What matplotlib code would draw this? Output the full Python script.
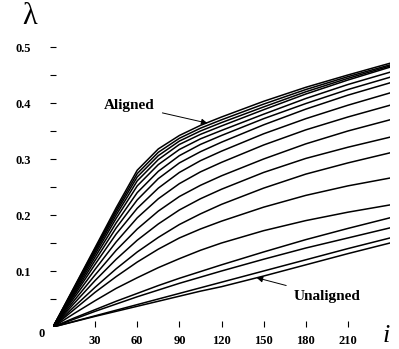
import numpy as np
from matplotlib import pyplot as plt

# sample positions along i
x_pts = [0, 15, 30, 45, 60, 75, 90, 105, 120, 150, 180, 210, 240]

# lambda, curves from the top ("Aligned") to the bottom ("Unaligned")
lam_c01 = [0, 0.071, 0.142, 0.213, 0.280, 0.318, 0.342, 0.360, 0.375, 0.403, 0.428, 0.450, 0.471]
lam_c02 = [0, 0.070, 0.140, 0.209, 0.274, 0.312, 0.337, 0.355, 0.370, 0.398, 0.424, 0.447, 0.468]
lam_c03 = [0, 0.068, 0.137, 0.205, 0.268, 0.306, 0.332, 0.350, 0.365, 0.393, 0.420, 0.444, 0.466]
lam_c04 = [0, 0.067, 0.134, 0.200, 0.261, 0.299, 0.326, 0.344, 0.359, 0.388, 0.416, 0.441, 0.464]
lam_c05 = [0, 0.065, 0.130, 0.194, 0.252, 0.290, 0.317, 0.336, 0.351, 0.380, 0.408, 0.433, 0.455]
lam_c06 = [0, 0.062, 0.125, 0.186, 0.240, 0.278, 0.306, 0.326, 0.342, 0.372, 0.399, 0.424, 0.446]
lam_c07 = [0, 0.059, 0.119, 0.177, 0.227, 0.265, 0.293, 0.313, 0.330, 0.361, 0.389, 0.414, 0.436]
lam_c08 = [0, 0.056, 0.112, 0.166, 0.212, 0.248, 0.276, 0.297, 0.314, 0.345, 0.372, 0.396, 0.418]
lam_c09 = [0, 0.052, 0.103, 0.152, 0.195, 0.229, 0.256, 0.277, 0.294, 0.325, 0.352, 0.375, 0.396]
lam_c10 = [0, 0.047, 0.093, 0.137, 0.175, 0.207, 0.233, 0.253, 0.270, 0.300, 0.327, 0.350, 0.370]
lam_c11 = [0, 0.042, 0.083, 0.121, 0.155, 0.184, 0.209, 0.229, 0.246, 0.276, 0.301, 0.321, 0.339]
lam_c12 = [0, 0.036, 0.071, 0.104, 0.134, 0.160, 0.183, 0.202, 0.219, 0.248, 0.273, 0.293, 0.311]
lam_c13 = [0, 0.031, 0.062, 0.090, 0.116, 0.139, 0.159, 0.175, 0.189, 0.214, 0.235, 0.252, 0.266]
lam_c14 = [0, 0.024, 0.047, 0.069, 0.088, 0.106, 0.122, 0.137, 0.150, 0.172, 0.190, 0.205, 0.218]
lam_c15 = [0, 0.016, 0.031, 0.046, 0.060, 0.074, 0.087, 0.099, 0.111, 0.134, 0.156, 0.176, 0.195]
lam_c16 = [0, 0.014, 0.028, 0.041, 0.054, 0.066, 0.078, 0.089, 0.100, 0.121, 0.141, 0.159, 0.177]
lam_c17 = [0, 0.010, 0.020, 0.030, 0.040, 0.050, 0.060, 0.070, 0.080, 0.100, 0.120, 0.140, 0.159]
lam_c18 = [0, 0.0095, 0.019, 0.028, 0.037, 0.046, 0.055, 0.064, 0.072, 0.091, 0.111, 0.131, 0.150]

x_ticks = [30, 60, 90, 120, 150, 180, 210]
y_ticks = [0.1, 0.2, 0.3, 0.4, 0.5]
y_minor = [0.05, 0.15, 0.25, 0.35, 0.45]


def main():
    plt.rcParams['font.family'] = ['Liberation Serif', 'DejaVu Serif']

    curves = [lam_c01, lam_c02, lam_c03, lam_c04, lam_c05, lam_c06,
              lam_c07, lam_c08, lam_c09, lam_c10, lam_c11, lam_c12,
              lam_c13, lam_c14, lam_c15, lam_c16, lam_c17, lam_c18]

    fig = plt.figure(figsize=(3.99, 3.49), dpi=100)
    ax = fig.add_axes([53 / 399, 22 / 349, 337 / 399, 280 / 349])

    for c in curves:
        ax.plot(x_pts, np.array(c), color="black", lw=1.1,
                solid_joinstyle="round")

    ax.set_xlim(0, 240)
    ax.set_ylim(0, 0.5)
    for s in ax.spines.values():
        s.set_visible(False)

    ax.set_xticks(x_ticks)
    ax.set_xticklabels([str(t) for t in x_ticks], fontsize=9, fontweight="bold")
    ax.set_yticks(y_ticks)
    ax.set_yticklabels([f"{t:.1f}" for t in y_ticks], fontsize=9, fontweight="bold")
    ax.set_yticks(y_minor, minor=True)
    ax.tick_params(axis="x", direction="in", length=4, width=0.8, pad=6)
    ax.tick_params(axis="y", which="both", direction="inout", length=4,
                   width=0.8, pad=14)

    ax.text(-8, -0.012, "0", fontsize=9, fontweight="bold",
            ha="center", va="center", clip_on=False)
    ax.text(-17, 0.555, "λ", fontsize=22, ha="center", va="center",
            clip_on=False)
    ax.text(237, -0.035, "i", fontsize=19, style="italic",
            ha="center", va="bottom", clip_on=False)

    ax.annotate("Aligned", xy=(110, 0.364), xytext=(54, 0.396),
                fontsize=11, fontweight="bold", ha="center", va="center",
                arrowprops=dict(arrowstyle="-|>", color="black", lw=0.7,
                                mutation_scale=9, shrinkA=4, shrinkB=0))
    ax.annotate("Unaligned", xy=(145, 0.088), xytext=(195, 0.055),
                fontsize=11, fontweight="bold", ha="center", va="center",
                arrowprops=dict(arrowstyle="-|>", color="black", lw=0.7,
                                mutation_scale=9, shrinkA=4, shrinkB=0))

    fig.savefig("out.png", dpi=100)


if __name__ == '__main__':
    main()
